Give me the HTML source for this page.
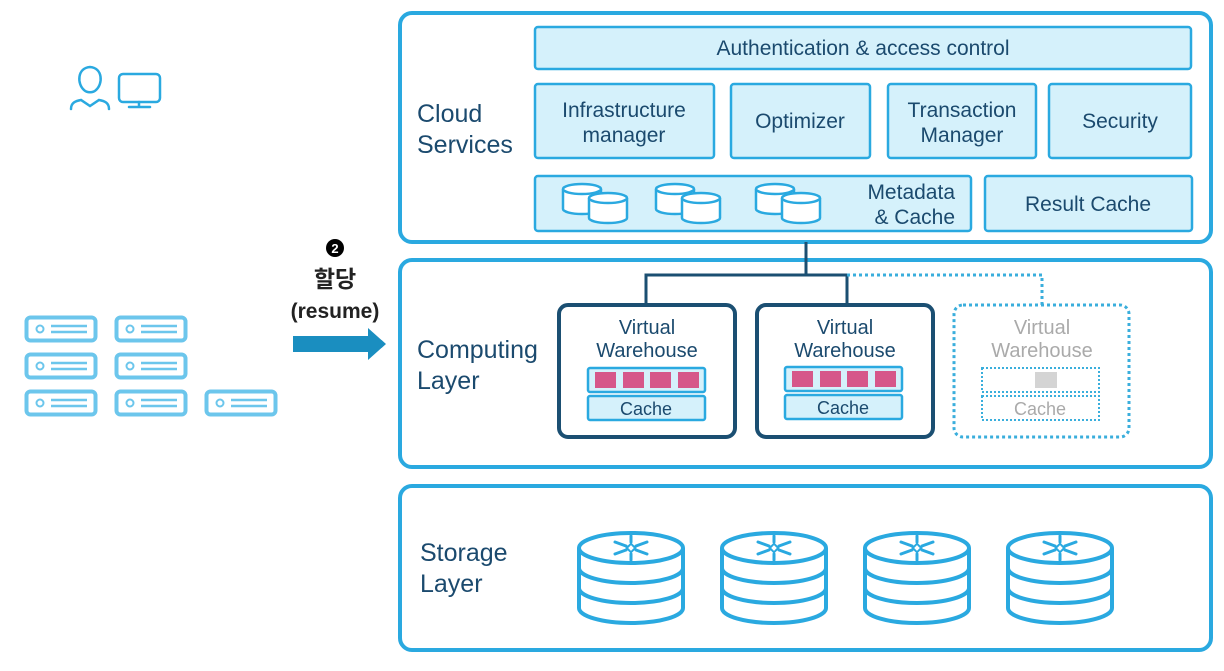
<!DOCTYPE html>
<html><head><meta charset="utf-8"><style>
body{margin:0;background:#fff;width:1224px;height:666px;overflow:hidden}
svg text{font-family:"Liberation Sans","Noto Sans CJK KR",sans-serif}
</style></head><body>
<svg width="1224" height="666" viewBox="0 0 1224 666" xmlns="http://www.w3.org/2000/svg">
<defs>
<g id="srv"><rect x="1.5" y="1.5" width="69" height="23" rx="4" fill="#fff" stroke="#6cc6ec" stroke-width="4"/><circle cx="15" cy="13" r="3.5" fill="none" stroke="#6cc6ec" stroke-width="2"/><line x1="26" y1="10" x2="62" y2="10" stroke="#6cc6ec" stroke-width="2.5"/><line x1="26" y1="16" x2="62" y2="16" stroke="#6cc6ec" stroke-width="2.5"/></g>
<g id="db" fill="#fff" stroke="#2aa9e0" stroke-width="2.5"><path d="M0,6 v20 a19,5 0 0 0 38,0 v-20"/><ellipse cx="19" cy="6" rx="19" ry="5"/></g>
<g id="cyl" fill="#fff" stroke="#2aa9e0" stroke-width="4"><path d="M-52,18 v60 a52,15 0 0 0 104,0 v-60"/><path d="M-52,38 a52,15 0 0 0 104,0 M-52,58 a52,15 0 0 0 104,0" fill="none"/><ellipse cx="0" cy="18" rx="52" ry="15"/>
<g stroke="#2aa9e0" stroke-width="3" stroke-linecap="round"><line x1="-16" y1="12" x2="-5" y2="16"/><line x1="16" y1="12" x2="5" y2="16"/><line x1="-16" y1="24" x2="-5" y2="20"/><line x1="16" y1="24" x2="5" y2="20"/><line x1="0" y1="6" x2="0" y2="12"/><line x1="0" y1="24" x2="0" y2="30"/></g><rect x="-3" y="15" width="6" height="6" transform="rotate(45 0 18)" stroke-width="2"/></g>
</defs>

<g fill="none" stroke="#2aa9e0" stroke-width="2.5" stroke-linecap="round">
<path d="M84,90 c-7,-6 -7,-22 6,-23 c13,1 13,17 6,23 c-3,3 -9,3 -12,0z"/>
<path d="M71,109 c0,-6 4,-8 10,-9 l9,6 l9,-6 c6,1 10,3 10,9"/>
<rect x="119" y="74" width="41" height="28" rx="4"/><line x1="139" y1="102" x2="139" y2="106"/><line x1="129" y1="107" x2="150" y2="107"/>
</g>

<use href="#srv" x="25" y="316"/><use href="#srv" x="115" y="316"/>
<use href="#srv" x="25" y="353"/><use href="#srv" x="115" y="353"/>
<use href="#srv" x="25" y="390"/><use href="#srv" x="115" y="390"/><use href="#srv" x="205" y="390"/>

<circle cx="335" cy="248" r="9" fill="#000"/><text x="335" y="253" font-size="13" font-weight="bold" fill="#fff" text-anchor="middle">2</text>
<text x="335" y="287" font-size="23" font-weight="bold" fill="#222" text-anchor="middle">할당</text>
<text x="335" y="318" font-size="21" font-weight="bold" fill="#222" text-anchor="middle">(resume)</text>
<path d="M293,336 h75 v-8 l18,16 l-18,16 v-8 h-75z" fill="#1a8ec0"/>

<rect x="400" y="13" width="811" height="229" rx="12" fill="#fff" stroke="#2aa9e0" stroke-width="4"/>
<text x="417" y="122" font-size="25" fill="#1b4a6e">Cloud</text><text x="417" y="153" font-size="25" fill="#1b4a6e">Services</text>
<g fill="#d5f1fb" stroke="#2aa9e0" stroke-width="2.5">
<rect x="535" y="27" width="656" height="42" rx="3"/>
<rect x="535" y="84" width="179" height="74" rx="3"/><rect x="731" y="84" width="139" height="74" rx="3"/>
<rect x="888" y="84" width="148" height="74" rx="3"/><rect x="1049" y="84" width="142" height="74" rx="3"/>
<rect x="535" y="176" width="436" height="55" rx="3"/><rect x="985" y="176" width="207" height="55" rx="3"/>
</g>
<g font-size="21" fill="#1b4a6e" text-anchor="middle">
<text x="863" y="55">Authentication &amp; access control</text>
<text x="624" y="117">Infrastructure</text><text x="624" y="142">manager</text>
<text x="800" y="128">Optimizer</text>
<text x="962" y="117">Transaction</text><text x="962" y="142">Manager</text>
<text x="1120" y="128">Security</text>
<text x="1088" y="211">Result Cache</text>
<text x="955" y="199" text-anchor="end">Metadata</text><text x="955" y="224" text-anchor="end">&amp; Cache</text>
</g>
<use href="#db" x="563" y="183"/><use href="#db" x="589" y="192"/>
<use href="#db" x="656" y="183"/><use href="#db" x="682" y="192"/>
<use href="#db" x="756" y="183"/><use href="#db" x="782" y="192"/>

<rect x="400" y="260" width="811" height="207" rx="12" fill="#fff" stroke="#2aa9e0" stroke-width="4"/>
<text x="417" y="358" font-size="25" fill="#1b4a6e">Computing</text><text x="417" y="389" font-size="25" fill="#1b4a6e">Layer</text>
<path d="M806,242 v33 M646,305 v-30 h201 v30" fill="none" stroke="#1b4f72" stroke-width="3"/>
<path d="M847,275 h195 v30" fill="none" stroke="#3aaedc" stroke-width="3" stroke-dasharray="3,3"/>
<rect x="559" y="305" width="176" height="132" rx="9" fill="#fff" stroke="#1b4f72" stroke-width="4"/>
<rect x="757" y="305" width="176" height="132" rx="9" fill="#fff" stroke="#1b4f72" stroke-width="4"/>
<rect x="954" y="305" width="175" height="132" rx="9" fill="#fff" stroke="#3aaedc" stroke-width="3" stroke-dasharray="3,3"/>
<g font-size="20" text-anchor="middle" fill="#1b4a6e">
<text x="647" y="334">Virtual</text><text x="647" y="357">Warehouse</text>
<text x="845" y="334">Virtual</text><text x="845" y="357">Warehouse</text>
<text x="1042" y="334" fill="#aaa">Virtual</text><text x="1042" y="357" fill="#aaa">Warehouse</text>
</g>
<g fill="#d5f1fb" stroke="#2aa9e0" stroke-width="2.5">
<rect x="588" y="368" width="117" height="24" rx="2"/><rect x="588" y="396" width="117" height="24" rx="2"/>
<rect x="785" y="367" width="117" height="24" rx="2"/><rect x="785" y="395" width="117" height="24" rx="2"/>
</g>
<g fill="none" stroke="#3aaedc" stroke-width="2" stroke-dasharray="2,2">
<rect x="982" y="368" width="117" height="24"/><rect x="982" y="396" width="117" height="24"/>
</g>
<rect x="1035" y="372" width="22" height="16" fill="#d4d4d4"/>
<g fill="#d6578a">
<rect x="595" y="372" width="21" height="16"/><rect x="623" y="372" width="21" height="16"/><rect x="650" y="372" width="21" height="16"/><rect x="678" y="372" width="21" height="16"/>
<rect x="792" y="371" width="21" height="16"/><rect x="820" y="371" width="21" height="16"/><rect x="847" y="371" width="21" height="16"/><rect x="875" y="371" width="21" height="16"/>
</g>
<g font-size="18" text-anchor="middle" fill="#1b4a6e">
<text x="646" y="415">Cache</text><text x="843" y="414">Cache</text><text x="1040" y="415" fill="#aaa">Cache</text>
</g>

<rect x="400" y="486" width="811" height="164" rx="12" fill="#fff" stroke="#2aa9e0" stroke-width="4"/>
<text x="420" y="561" font-size="25" fill="#1b4a6e">Storage</text><text x="420" y="592" font-size="25" fill="#1b4a6e">Layer</text>
<use href="#cyl" x="631" y="530"/><use href="#cyl" x="774" y="530"/><use href="#cyl" x="917" y="530"/><use href="#cyl" x="1060" y="530"/>
</svg>
</body></html>
